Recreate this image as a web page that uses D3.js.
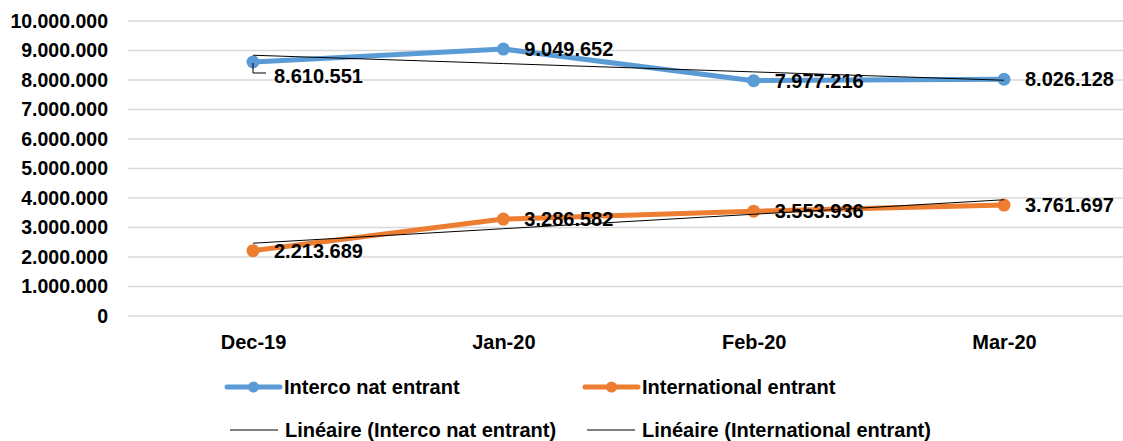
<!DOCTYPE html>
<html>
<head>
<meta charset="utf-8">
<script src="https://cdn.jsdelivr.net/npm/d3@7"></script>
<style>
  body { margin: 0; background: #fff; }
  text { font-family: "Liberation Sans", Arial, sans-serif; font-weight: bold; fill: #000; }
</style>
</head>
<body>
<svg id="svg1"></svg>
<script>

var months = ["Dec-19", "Jan-20", "Feb-20", "Mar-20"];
var interco = [8610551, 9049652, 7977216, 8026128];
var international = [2213689, 3286582, 3553936, 3761697];
var yTicks = [0, 1000000, 2000000, 3000000, 4000000, 5000000, 6000000, 7000000, 8000000, 9000000, 10000000];
var seriesNames = ["Interco nat entrant", "International entrant"];
var trendNames = ["Linéaire (Interco nat entrant)", "Linéaire (International entrant)"];

var width = 1123;
var height = 441;
var blue = "#5B9BD5", orange = "#ED7D31";

var svg = d3.select("#svg1")
    .attr("width", width)
    .attr("height", height);

// number format with dots
var fmt = function(v) { return d3.format(",")(v).replace(/,/g, "."); };

// X scale
var x = d3.scalePoint()
    .domain(months)
    .range([253, 1004]);

// Y scale
var y = d3.scaleLinear()
    .domain([0, 10000000])
    .range([316, 21]);

// gridlines
svg.append("g")
  .selectAll("line")
  .data(yTicks)
  .enter()
  .append("line")
    .attr("x1", 128)
    .attr("x2", width)
    .attr("y1", function(d) { return y(d); })
    .attr("y2", function(d) { return y(d); })
    .style("stroke", "#D9D9D9")
    .style("stroke-width", 1.5);

// Y axis
var yAxis = svg.append("g")
    .attr("transform", "translate(118,0)")
    .call(d3.axisLeft(y).tickValues(yTicks).tickFormat(fmt).tickSize(0).tickPadding(10));
yAxis.select(".domain").remove();
yAxis.selectAll("text")
    .style("font-family", "'Liberation Sans', Arial, sans-serif")
    .style("font-weight", "bold")
    .style("font-size", "19.5px")
    .attr("fill", "#000");

// X axis
var xAxis = svg.append("g")
    .attr("transform", "translate(0,328)")
    .call(d3.axisBottom(x).tickSize(0).tickPadding(5));
xAxis.select(".domain").remove();
xAxis.selectAll("text")
    .style("font-family", "'Liberation Sans', Arial, sans-serif")
    .style("font-weight", "bold")
    .style("font-size", "20px")
    .attr("dy", "0.8em")
    .attr("fill", "#000");

// linear trend (least squares)
function trend(vals) {
  var n = vals.length, mx = (n - 1) / 2, my = d3.mean(vals);
  var num = 0, den = 0;
  vals.forEach(function(v, i) { num += (i - mx) * (v - my); den += (i - mx) * (i - mx); });
  var b = num / den, a = my - b * mx;
  return vals.map(function(v, i) { return a + b * i; });
}

var line = d3.line()
    .x(function(d, i) { return x(months[i]); })
    .y(function(d) { return y(d); });

var series = [
  { vals: interco, color: blue },
  { vals: international, color: orange }
];

series.forEach(function(s) {
  svg.append("path")
    .datum(s.vals)
    .attr("d", line)
    .style("fill", "none")
    .style("stroke", s.color)
    .style("stroke-width", 5)
    .style("stroke-linejoin", "round");
  svg.append("g")
    .selectAll("circle")
    .data(s.vals)
    .enter()
    .append("circle")
      .attr("cx", function(d, i) { return x(months[i]); })
      .attr("cy", function(d) { return y(d); })
      .attr("r", 6.5)
      .style("fill", s.color);
});

series.forEach(function(s) {
  svg.append("path")
    .datum(trend(s.vals))
    .attr("d", line)
    .style("fill", "none")
    .style("stroke", "#000")
    .style("stroke-width", 1);
});

// data labels
series.forEach(function(s, si) {
  svg.append("g")
    .selectAll("text")
    .data(s.vals)
    .enter()
    .append("text")
      .attr("x", function(d, i) { return x(months[i]) + 21; })
      .attr("y", function(d, i) { return y(d) + (si == 0 && i == 0 ? 14 : 0); })
      .attr("dy", "0.36em")
      .style("font-size", "20px")
      .text(function(d) { return fmt(d); });
});

// leader line for first blue label
var lx = x(months[0]), ly = y(interco[0]);
svg.append("path")
    .attr("d", "M" + lx + "," + (ly + 1) + "V" + (ly + 11) + "H" + (lx + 13))
    .style("fill", "none")
    .style("stroke", "#000")
    .style("stroke-width", 1);

// legend
var legend = svg.append("g");
var legRows = [
  { x: 227, y: 387, name: seriesNames[0], color: blue, thick: true },
  { x: 585, y: 387, name: seriesNames[1], color: orange, thick: true },
  { x: 230, y: 430, name: trendNames[0], color: "#000", thick: false },
  { x: 587, y: 430, name: trendNames[1], color: "#000", thick: false }
];
legRows.forEach(function(r) {
  var g = legend.append("g").attr("transform", "translate(" + r.x + "," + r.y + ")");
  g.append("line")
    .attr("x1", 0).attr("x2", r.thick ? 53 : 48)
    .attr("y1", 0).attr("y2", 0)
    .style("stroke", r.color)
    .style("stroke-width", r.thick ? 5 : 1)
    .style("stroke-linecap", r.thick ? "round" : "butt");
  if (r.thick) {
    g.append("circle").attr("cx", 26.5).attr("cy", 0).attr("r", 5.5).style("fill", r.color);
  }
  g.append("text")
    .attr("x", r.thick ? 57 : 55)
    .attr("dy", "0.36em")
    .style("font-size", "20px")
    .text(r.name);
});

</script>
</body>
</html>
